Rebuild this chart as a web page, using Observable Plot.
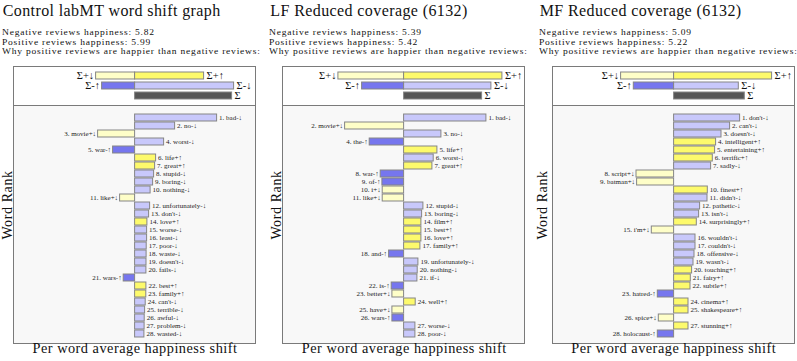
<!DOCTYPE html>
<html>
<head>
<meta charset="utf-8">
<script src="https://cdn.jsdelivr.net/npm/d3@7"></script>
<script src="https://cdn.jsdelivr.net/npm/@observablehq/plot@0.6"></script>
<style>
  html, body { margin: 0; padding: 0; background: #fff; }
  #root { position: relative; width: 797px; height: 361px; overflow: hidden; font-family: "Liberation Serif", "DejaVu Serif", "Noto Serif", "FreeSerif", "Nimbus Roman", "Tinos", "Times", serif; color: #111; }
  .t { position: absolute; white-space: nowrap; line-height: 1; }
  .title { font-size: 16px; letter-spacing: 0.4px; }
  .sub { font-size: 8.5px; letter-spacing: 0.7px; transform: scaleX(1.118); transform-origin: 0 50%; }
  .xlab { font-size: 14.3px; letter-spacing: 0.5px; transform: translateX(-50%); }
  .ylab { position: absolute; width: 0; height: 0; }
  .ylab span { position: absolute; white-space: nowrap; line-height: 1; font-size: 14px; letter-spacing: 0.6px; transform: translate(-50%, -50%) rotate(-90deg); }
  .pl { position: absolute; }
  .pl svg { overflow: visible; display: block; }
</style>
</head>
<body>
<div id="root"></div>
<script>
// ---------------- data ----------------
const titles = ["Control labMT word shift graph", "LF Reduced coverage (6132)", "MF Reduced coverage (6132)"];
const negHappiness = [5.82, 5.39, 5.09];
const posHappiness = [5.99, 5.42, 5.22];
const whyLine = "Why positive reviews are happier than negative reviews:";
const xLabel = "Per word average happiness shift";
const yLabel = "Word Rank";

const sumLabels = ["Σ+↓", "Σ+↑", "Σ-↑", "Σ-↓", "Σ"];
const sumGroups = ["+", "+", "-", "-", "Σ"];
const sumTypes  = ["+↓", "+↑", "-↑", "-↓", "Σ"];
const sums1 = [-39, 69, -33, 99, 97];
const sums2 = [-65.7, 98.3, -42, 87.3, 78];
const sums3 = [-53, 98, -40.3, 64.7, 70.7];

const words1 = ["bad","no","movie","worst","war","life","great","stupid","boring","nothing","like","unfortunately","don't","love","worse","least","poor","waste","doesn't","fails","wars","best","family","can't","terrible","awful","problem","wasted"];
const types1 = ["-↓","-↓","+↓","-↓","-↑","+↑","+↑","-↓","-↓","-↓","+↓","-↓","-↓","+↑","-↓","-↓","-↓","-↓","-↓","-↓","-↑","+↑","+↑","-↓","-↓","-↓","-↓","-↓"];
const values1 = [82, 40, -37, 29, -22, 21, 20, 19, 18, 15.5, -15, 15, 14, 12.3, 12, 12, 11.6, 11.5, 11.4, 11.3, -11.4, 11.3, 11.2, 10.6, 10, 9.6, 9.5, 9.3];

const words2 = ["bad","movie","no","the","life","worst","great","war","of","i","like","stupid","boring","film","best","love","family","and","unfortunately","nothing","if","is","better","well","have","wars","worse","poor"];
const types2 = ["-↓","+↓","-↓","-↑","+↑","-↓","+↑","-↑","-↑","+↓","+↓","-↓","-↓","+↑","+↑","+↑","+↑","-↑","-↓","-↓","-↓","-↑","+↓","+↑","+↓","-↑","-↓","-↓"];
const values2 = [82.3, -59, 37.3, -34.4, 33.3, 29.6, 28.3, -23.4, -21.7, -21.4, -21.4, 19.3, 18, 17.3, 17.3, 17.3, 16.3, -15, 14.3, 13.6, 13.3, -12.4, -11.7, 11.6, -11.7, -11.7, 11.3, 11.3];

const words3 = ["don't","can't","doesn't","intelligent","entertaining","terrific","sadly","script","batman","finest","didn't","pathetic","isn't","surprisingly","i'm","wouldn't","couldn't","offensive","wasn't","touching","fairy","subtle","hatred","cinema","shakespeare","spice","stunning","holocaust"];
const types3 = ["-↓","-↓","-↓","+↑","+↑","+↑","-↓","+↓","+↓","+↑","-↓","-↓","-↓","+↑","+↓","-↓","-↓","-↓","-↓","+↑","+↑","+↑","-↑","+↑","+↑","+↓","+↑","-↑"];
const values3 = [66, 56, 47.4, 42, 41, 38.7, 37, -37.6, -37, 33.7, 33.4, 26, 25, 22.7, -22.3, 21.4, 21.4, 20.4, 19.4, 18, 16.7, 16.4, -16.3, 14.4, 14.4, -15.3, 14.4, -16.3];

const colorTypes  = ["+↑", "+↓", "-↑", "-↓", "Σ"];
const colorValues = ["#fdfa6c", "#fefec8", "#7676ee", "#c8c8fb", "#555555"];

// ---------------- layout ----------------
const boxLeft = [13, 282.3, 551.7];
const textLeft = [1.7, 269.3, 538.7];
const yLabX = [7.5, 276.5, 543];
const boxW = 242, topY = 66, topH = 39, mainY = 105, mainH = 238;
const xDomain = [-121.6, 120.4];
const serif = '"Liberation Serif", "DejaVu Serif", "Noto Serif", "FreeSerif", "Nimbus Roman", "Tinos", "Times", serif';

const root = document.getElementById("root");
function addText(txt, cls, left, top) {
  const d = document.createElement("div");
  d.className = "t " + cls;
  d.style.left = left + "px";
  d.style.top = top + "px";
  d.textContent = txt;
  root.appendChild(d);
  return d;
}
function addPlot(svg, left, top) {
  const d = document.createElement("div");
  d.className = "pl";
  d.style.left = left + "px";
  d.style.top = top + "px";
  d.appendChild(svg);
  root.appendChild(d);
}

const panels = [
  {sums: sums1, words: words1, types: types1, values: values1},
  {sums: sums2, words: words2, types: types2, values: values2},
  {sums: sums3, words: words3, types: types3, values: values3}
];

const colorScale = {domain: colorTypes, range: colorValues};
const plotStyle = {fontFamily: serif, background: "transparent", overflow: "visible", color: "#111"};

panels.forEach((p, i) => {
  addText(titles[i], "title", textLeft[i] + 1, 2.6);
  addText("Negative reviews happiness: " + negHappiness[i].toFixed(2), "sub", textLeft[i], 28.2);
  addText("Positive reviews happiness: " + posHappiness[i].toFixed(2), "sub", textLeft[i], 37.6);
  addText(whyLine, "sub", textLeft[i], 47.0);

  // summary box
  const sumData = p.sums.map((v, k) => ({value: v, label: sumLabels[k], group: sumGroups[k], type: sumTypes[k]}));
  const top = Plot.plot({
    width: boxW, height: topH, margin: 0,
    style: plotStyle,
    x: {domain: xDomain, axis: null},
    y: {type: "band", domain: ["+", "-", "Σ"], range: [5.25, 33.75], paddingInner: 0.286, paddingOuter: 0, axis: null},
    color: colorScale,
    marks: [
      Plot.frame({fill: "#ffffff", stroke: "#7a7a7a"}),
      Plot.barX(sumData, {x1: 0, x2: "value", y: "group", fill: "type", stroke: "#858585", strokeWidth: 1}),
      Plot.text(sumData, {filter: d => d.value < 0, x: "value", y: "group", text: "label", textAnchor: "end", dx: -2, fontSize: 10.5}),
      Plot.text(sumData, {filter: d => d.value > 0, x: "value", y: "group", text: "label", textAnchor: "start", dx: 2.5, fontSize: 10.5})
    ]
  });
  addPlot(top, boxLeft[i], topY);

  // word rank box
  const data = p.words.map((w, k) => ({rank: k + 1, word: w, type: p.types[k], value: p.values[k]}));
  const lab = d => `${d.rank}. ${d.word}${d.type}`;
  const main = Plot.plot({
    width: boxW, height: mainH, margin: 0,
    style: plotStyle,
    x: {domain: xDomain, axis: null},
    y: {type: "band", domain: data.map(d => d.rank), range: [2.345, 239.15], paddingInner: 0.14, paddingOuter: 0, axis: null},
    color: colorScale,
    marks: [
      Plot.frame({fill: "#f8f8f8", stroke: "#7a7a7a"}),
      Plot.barX(data, {x1: 0, x2: "value", y: "rank", fill: "type", stroke: "#858585", strokeWidth: 1, clip: true}),
      Plot.text(data, {filter: d => d.value > 0, x: "value", y: "rank", text: lab, textAnchor: "start", dx: 2, fontSize: 7, letterSpacing: "0.3px", fill: "#222", clip: true}),
      Plot.text(data, {filter: d => d.value < 0, x: "value", y: "rank", text: lab, textAnchor: "end", dx: -2, fontSize: 7, letterSpacing: "0.3px", fill: "#222", clip: true})
    ]
  });
  addPlot(main, boxLeft[i], mainY);

  // axis labels
  addText(xLabel, "xlab", boxLeft[i] + boxW / 2 + 1, 341);
  const yl = document.createElement("div");
  yl.className = "ylab";
  yl.style.left = yLabX[i] + "px";
  yl.style.top = "204.5px";
  const sp = document.createElement("span");
  sp.textContent = yLabel;
  yl.appendChild(sp);
  root.appendChild(yl);
});
</script>
</body>
</html>
